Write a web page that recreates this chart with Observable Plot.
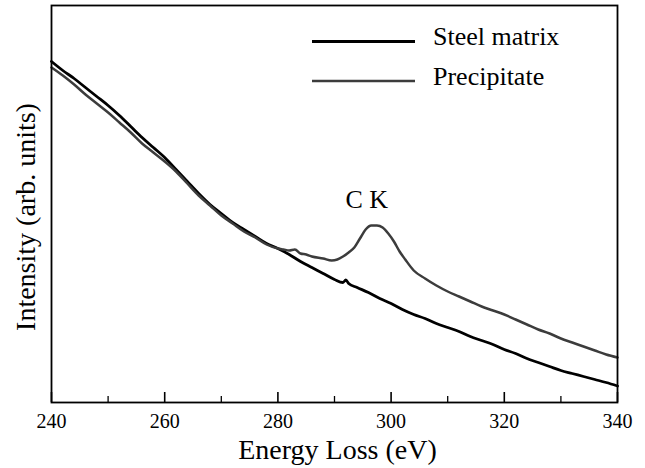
<!DOCTYPE html>
<html>
<head>
<meta charset="utf-8">
<script src="https://cdn.jsdelivr.net/npm/d3@7"></script>
<script src="https://cdn.jsdelivr.net/npm/@observablehq/plot@0.6"></script>
<style>
  html, body { margin: 0; padding: 0; background: white; }
  #chart { width: 645px; height: 468px; }
  #chart svg text { font-family: "Liberation Serif", "Times New Roman", Times, Tinos, "DejaVu Serif", serif !important; }
</style>
</head>
<body>
<div id="chart"></div>
<script>
// Energy loss (eV) and intensity (arb. units)
const steelEnergy = [240,242,244,246,248,250,252,254,256,258,260,262,264,266,268,270,272,274,276,278,280,282,284,286,288,290,291.5,292,292.5,294,296,298,300,302,304,306,308,310,312,314,316,318,320,322,324,326,328,330,332,334,336,338,340];
const steelIntensity = [341,332,324,315,306,297,287,276,265,255,245,233,221,209,198,189,180,173,166,159,154,148,141,135,129,123,120,122.5,119,115,110,104,99,93,88,84,79,75,71,66,62,58,53,49,44,40,36,32,29,26,23,20,16.5];

const precipEnergy = [240,242,244,246,248,250,252,254,256,258,260,262,264,266,268,270,272,274,276,278,280,281,282,283,284,285,286,288,289.5,290.5,291.5,292.5,293.5,294.5,295.5,296.5,297.5,298.5,299.5,300.5,301.5,302.5,304,306,308,310,312,314,316,318,320,322,324,326,328,330,332,334,336,338,340];
const precipIntensity = [335,327,318,308,299,290,280,270,259,250,241,231,219,207,197,187,179,171,165,158,154,153,152,153,149,148,146,144,142,143,146,150,155,164,173,177,177,175,169,161,151,143,132,124,117,111,106,101,96,92,88,83,78,73,69,64,60,56,52,48,45];

const majorTicks = [240,260,280,300,320,340];
const minorTicks = [250,270,290,310,330];

const seriesNames = ["Steel matrix","Precipitate"];
const seriesColors = ["#000000","#3c3c3c"];

const xLabel = "Energy Loss (eV)";
const yLabel = "Intensity (arb. units)";
const peakLabel = ["C K"];
const peakEnergy = [295.7];
const peakIntensity = [203];

const FONT = '"Liberation Serif", "Times New Roman", Times, Tinos, "DejaVu Serif", serif';

const steel = steelEnergy.map((e,i) => ({e, v: steelIntensity[i]}));
const precip = precipEnergy.map((e,i) => ({e, v: precipIntensity[i]}));
const peak = peakLabel.map((t,i) => ({t, e: peakEnergy[i], v: peakIntensity[i]}));

const chart = Plot.plot({
  width: 645,
  height: 468,
  marginTop: 5,
  marginBottom: 66,
  marginLeft: 51,
  marginRight: 28,
  style: {fontFamily: FONT, background: "white", color: "black"},
  x: {domain: [240, 340]},
  y: {domain: [0, 397], axis: null},
  marks: [
    Plot.line(steel, {x: "e", y: "v", stroke: seriesColors[0], strokeWidth: 2.8, curve: "monotone-x"}),
    Plot.line(precip, {x: "e", y: "v", stroke: seriesColors[1], strokeWidth: 2.5, curve: "monotone-x"}),
    Plot.tickX(majorTicks, {x: d => d, insetTop: 387, stroke: "black", strokeWidth: 1.6}),
    Plot.tickX(minorTicks, {x: d => d, insetTop: 391, stroke: "black", strokeWidth: 1.3}),
    Plot.axisX({ticks: majorTicks, tickSize: 0, tickPadding: 11, fontSize: 20, label: null, tickFormat: d => String(d)}),
    Plot.frame({stroke: "black", strokeWidth: 1.8}),
    Plot.text([xLabel], {frameAnchor: "bottom", textAnchor: "middle", lineAnchor: "middle", dy: 48, dx: 3, fontSize: 28, fill: "black"}),
    Plot.text([yLabel], {frameAnchor: "left", textAnchor: "middle", lineAnchor: "middle", rotate: -90, dx: -25, dy: 13, fontSize: 28, fill: "black"}),
    Plot.text(peak, {x: "e", y: "v", text: "t", fontSize: 26, fill: "black"})
  ]
});
document.getElementById("chart").appendChild(chart);

// Legend inside the plot area
const svg = d3.select(chart);
const leg = svg.append("g").attr("font-size", 26).attr("text-anchor", "start");
const rowY = [41.5, 81];
seriesNames.forEach((name, i) => {
  leg.append("line").attr("x1", 312).attr("x2", 415).attr("y1", rowY[i]).attr("y2", rowY[i])
    .attr("stroke", seriesColors[i]).attr("stroke-width", i === 0 ? 2.8 : 2.5);
  leg.append("text").attr("x", 433).attr("y", rowY[i] + 3.5).attr("fill", "black")
    .attr("text-anchor", "start").text(name);
});
</script>
</body>
</html>
